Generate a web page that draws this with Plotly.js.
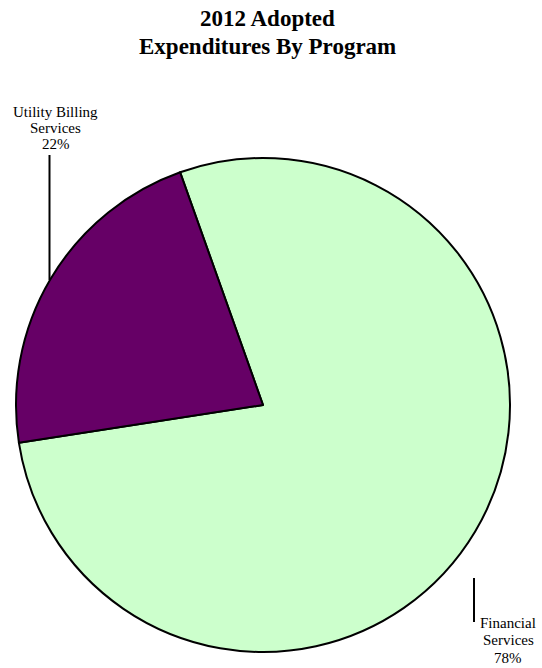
<!DOCTYPE html>
<html>
<head>
<meta charset="utf-8">
<script src="https://cdn.plot.ly/plotly-3.0.1.min.js"></script>
<style>html,body{margin:0;padding:0;background:#fff;}#chart{width:542px;height:668px;}</style>
</head>
<body>
<div id="chart"></div>
<script>
const categories = ["Financial Services", "Utility Billing Services"];
const shares = [78, 22];
const colors = ["#CCFFCC", "#660066"];
const labelLines = [["Financial", "Services", "78%"], ["Utility Billing", "Services", "22%"]];
const titleLines = ["2012 Adopted", "Expenditures By Program"];

const W = 542, H = 668;
const px = x => x / W;
const py = y => 1 - y / H;

const trace = {
  type: "pie",
  labels: categories,
  values: shares,
  sort: false,
  direction: "clockwise",
  rotation: -19.6,
  marker: { colors: colors, line: { color: "#000", width: 2 } },
  textinfo: "none",
  hoverinfo: "label+percent",
  domain: { x: [px(16), px(510)], y: [py(652), py(158)] },
  showlegend: false
};

const serif = "Liberation Serif, Times New Roman, serif";
const labelFont = { family: serif, size: 15, color: "#000" };
const titleFont = { family: serif, size: 23, color: "#000" };

const annotations = [];
const titleY = [18.5, 46.5];
titleLines.forEach((t, i) => annotations.push({
  xref: "paper", yref: "paper", x: px(267), y: py(titleY[i]), text: "<b>" + t + "</b>",
  showarrow: false, font: titleFont, xanchor: "center", yanchor: "middle"
}));
const labelPos = [
  { x: 508, ys: [622.7, 640.2, 657.7] },
  { x: 55.5, ys: [112.2, 128.2, 144.2] }
];
labelLines.forEach((lines, k) => lines.forEach((t, i) => annotations.push({
  xref: "paper", yref: "paper", x: px(labelPos[k].x), y: py(labelPos[k].ys[i]), text: t,
  showarrow: false, font: labelFont, xanchor: "center", yanchor: "middle"
})));

const layout = {
  width: W, height: H,
  margin: { l: 0, r: 0, t: 0, b: 0 },
  paper_bgcolor: "#fff",
  annotations: annotations,
  shapes: [
    { type: "line", xref: "paper", yref: "paper", x0: px(474), y0: py(578), x1: px(474), y1: py(622), line: { color: "#000", width: 2 } },
    { type: "line", xref: "paper", yref: "paper", x0: px(49.5), y0: py(155), x1: px(49.5), y1: py(280), line: { color: "#000", width: 2 } }
  ]
};

Plotly.newPlot("chart", [trace], layout, { displayModeBar: false, staticPlot: true });
</script>
</body>
</html>
